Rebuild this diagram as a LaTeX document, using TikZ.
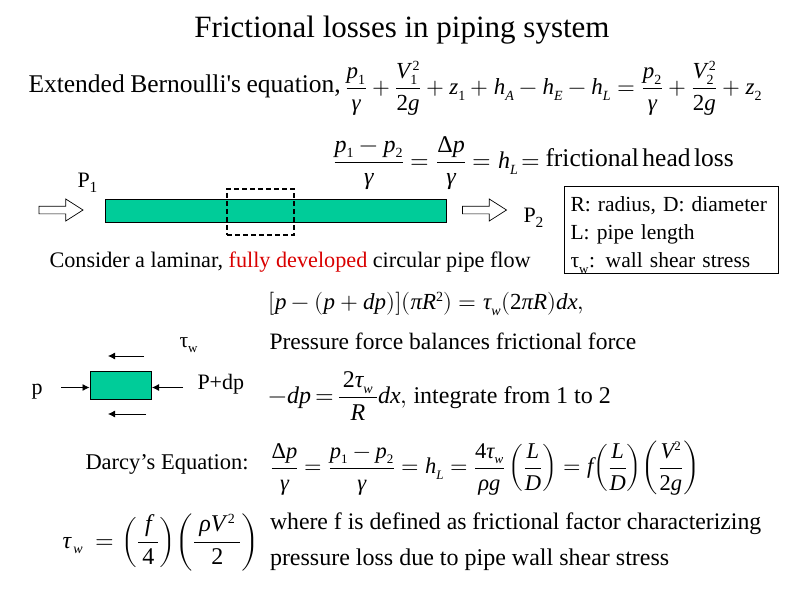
\documentclass[tikz,border=0pt]{standalone}
\usepackage{amsmath,amssymb}
\usepackage{fontspec}
\setmainfont[Ligatures=TeXOff]{Liberation Serif}
\usepackage{unicode-math}
\setmathfont{Latin Modern Math}
\setmathfont[range=up]{Liberation Serif}
\setmathfont[range=it]{Liberation Serif Italic}
\usetikzlibrary{arrows.meta,shapes.arrows}
\definecolor{pipegreen}{RGB}{0,204,153}
\DeclareMathSizes{21.5}{21.5}{13}{10}
\DeclareMathSizes{22.5}{22.5}{13}{10}
\DeclareMathSizes{23}{23}{14}{10}
\DeclareMathSizes{24}{24}{14}{10}
\newcommand{\fs}[1]{\fontsize{#1}{27}\selectfont}
% tall fraction, the bar sits well apart from both lines
\newcommand{\fr}[2]{\dfrac{#1\rule[-2pt]{0pt}{0pt}}{\rule{0pt}{19pt}#2}}
\begin{document}
\begin{tikzpicture}[x=1pt,y=-1pt,line width=1pt,every node/.style={font=\fs{21.5},inner sep=0pt}]
  \useasboundingbox (0,0) rectangle (800,600);
  %--- styles for this picture
  \tikzset{hollow/.style={draw,fill=white,single arrow,minimum height=44pt,minimum width=14pt,inner ysep=3.5pt,
      single arrow tip angle=65,single arrow head indent=0pt,anchor=center,line width=0.7pt},
    force/.style={-{Latex[length=7pt,width=7pt]},line width=0.8pt},
    txt/.style={anchor=west}}
  \node (title) [font=\fs{31}] at (402,30) {Frictional losses in piping system};
  \node (bern) [txt,font=\fs{25.5}] at (28,86) {\spaceskip=5.5pt Extended Bernoulli's equation,};
  \node (eqA) [txt,font=\fs{23}] at (345,88.5) {$\fr{p_1}{\gamma}+\fr{V_1^{\,2}}{2g}+z_1+h_A-h_E-h_L=\fr{p_2}{\gamma}+\fr{V_2^{\,2}}{2g}+z_2$};
  \node (eqB) [txt,font=\fs{24}] at (333,163) {$\fr{p_1-p_2}{\gamma}=\fr{\Delta p}{\gamma}=h_L\!=$};
  \node (headloss) [txt,font=\fs{25.5}] at (545,158) {\spaceskip=3.5pt frictional head loss};
  %--- pipe
  \node (pone) [txt,font=\fs{22}] at (77,183) {P$_1$};
  \node (ptwo) [txt,font=\fs{22}] at (523,218) {P$_2$};
  \node (pipe) [draw,fill=pipegreen,minimum width=341.5pt,minimum height=23pt,anchor=north west] at (104.5,198.5) {};
  \node (cv) [draw,dash pattern=on 5pt off 3pt,line width=1.5pt,minimum width=67pt,minimum height=46pt,anchor=north west] at (226,188) {};
  \node (inarrow) [hollow] at (58,210) {};
  \node (outarrow) [hollow] at (481.5,210) {};
  \node (consider) [txt,font=\fs{22.2}] at (49,262) {Consider a laminar, \textcolor{red!85!black}{fully developed} circular pipe flow};
  \node (legend) [draw,anchor=north west,align=left,minimum width=214pt,minimum height=87pt,text width=202pt,inner xsep=6pt] at (564,186) {\rule{0pt}{25pt}R: radius, D: diameter\\[1pt]L: pipe length\\[1pt]$\symup{\tau}_{\text{w}}$: wall shear stress};
  %--- force balance
  \node (eqC) [txt,font=\fs{23}] at (268,304) {$[p-(p+dp)](\pi R^2)=\tau_w(2\pi R)dx,$};
  \node (balance) [txt,font=\fs{23.5}] at (269,341) {Pressure force balances frictional force};
  \node (tauw) [txt] at (179,345) {$\symup{\tau}_{\text{w}}$};
  \node (elem) [draw,fill=pipegreen,minimum width=61.5pt,minimum height=28pt,anchor=north west] at (89.5,370.5) {};
  \node (p) [txt,font=\fs{22}] at (31,392) {p};
  \node (pdp) [txt,font=\fs{22}] at (197,384) {P+dp};
  \coordinate (fa) at (61,387.5); \coordinate (fb) at (183,387.5);
  \coordinate (ta) at (144,356); \coordinate (tb) at (108,356);
  \coordinate (ua) at (146,414); \coordinate (ub) at (108,414);
  \draw[force] (fa) -- (fa -| elem.west);
  \draw[force] (fb) -- (fb -| elem.east);
  \draw[force] (ta) -- (tb);
  \draw[force] (ua) -- (ub);
  \node (eqD) [txt,font=\fs{24}] at (268,396) {$\thickmuskip=3mu -dp=\fr{\makebox[38pt]{$2\tau_w$}}{R}dx,$ integrate from 1 to 2};
  \node (darcy) [txt,font=\fs{22.5}] at (85,464) {Darcy’s Equation:};
  \node (eqE) [txt,font=\fs{22.5}] at (270,468) {$\fr{\Delta p}{\gamma}=\fr{p_1-p_2}{\gamma}=h_L=\fr{4\tau_w}{\rho g}\left(\fr{L}{D}\right)=f\!\left(\fr{L}{D}\right)\!\left(\fr{V^2}{2g}\right)$};
  \node (eqF) [txt,font=\fs{24}] at (62,542) {$\tau_{\,w}\hspace{6pt}=\left(\fr{\makebox[20pt]{$f$}}{4}\right)\!\left(\fr{\makebox[46pt]{$\rho V^{\,2}$}}{2}\right)$};
  \node (where) [txt,font=\fs{23.75}] at (269.5,523.5) {where f is defined as frictional factor characterizing};
  \node (loss) [txt,font=\fs{24}] at (269.5,559.5) {pressure loss due to pipe wall shear stress};
\end{tikzpicture}
\end{document}
